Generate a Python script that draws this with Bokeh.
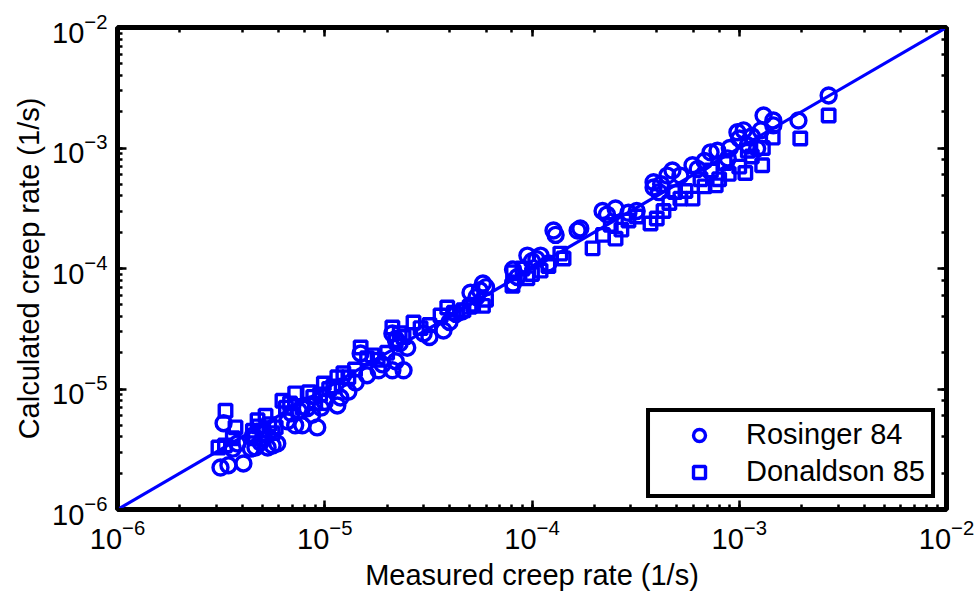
from bokeh.plotting import figure
from bokeh.models import LogAxis, LogTicker, Legend, LegendItem, CustomJSTickFormatter
from bokeh.embed import file_html
from bokeh.resources import INLINE

# ---- data ----
rosinger_x = [3.14e-6, 3.43e-6, 4.05e-6, 3.25e-6, 3.79e-6, 3.6e-6, 4.4e-6, 4.63e-6, 4.9e-6, 5.3e-6,
              5.6e-6, 5.9e-6, 4.5e-6, 5.1e-6,
              6.6e-6, 7.2e-6, 7.8e-6, 9.2e-6, 6.9e-6, 7.5e-6, 8.2e-6, 8.7e-6, 9.6e-6, 1.0e-5,
              1.19e-5, 1.15e-5, 1.3e-5, 1.41e-5, 1.49e-5, 1.6e-5, 1.82e-5, 2.12e-5, 2.4e-5, 2.2e-5, 1.9e-5,
              2.12e-5, 2.3e-5, 2.5e-5, 3.0e-5, 3.2e-5, 3.74e-5, 4.0e-5, 4.3e-5, 5.05e-5, 5.4e-5, 5.8e-5, 6.0e-5,
              8.1e-5, 8.1e-5, 9.5e-5, 1.0e-4, 1.1e-4, 1.2e-4,
              1.27e-4, 1.3e-4, 1.66e-4, 1.71e-4, 2.19e-4, 2.53e-4, 2.92e-4, 3.2e-4,
              3.86e-4, 3.86e-4, 4.1e-4, 4.5e-4, 4.76e-4, 5.2e-4, 5.95e-4, 6.3e-4,
              7.27e-4, 7.85e-4, 8.8e-4, 9.8e-4, 1.05e-3, 1.22e-3, 1.27e-3, 1.31e-3, 1.46e-3, 1.46e-3,
              1.93e-3, 2.7e-3, 1.0e-3, 1.1e-3,
              2.2e-5, 4.6e-5, 5.6e-5, 1.05e-4, 8.5e-5, 2.3e-4, 4.2e-4, 6.8e-4, 1.15e-3, 9.0e-4]
rosinger_y = [2.23e-6, 2.33e-6, 2.41e-6, 5.2e-6, 3.53e-6, 3.2e-6, 3.2e-6, 3.27e-6, 3.6e-6, 3.27e-6,
              3.4e-6, 3.53e-6, 4.1e-6, 4.3e-6,
              5.4e-6, 5.0e-6, 5.0e-6, 4.8e-6, 6.3e-6, 6.6e-6, 6.9e-6, 6.1e-6, 7.0e-6, 7.8e-6,
              8.5e-6, 7.3e-6, 9.5e-6, 1.13e-5, 1.97e-5, 1.3e-5, 1.43e-5, 1.43e-5, 1.43e-5, 1.7e-5, 1.6e-5,
              2.89e-5, 2.4e-5, 2.2e-5, 2.89e-5, 2.7e-5, 3.06e-5, 3.6e-5, 4.2e-5, 6.3e-5, 5.8e-5, 7.5e-5, 7.0e-5,
              7.5e-5, 9.8e-5, 1.28e-4, 1.15e-4, 1.28e-4, 1.1e-4,
              2.07e-4, 1.9e-4, 2.07e-4, 2.15e-4, 3.0e-4, 3.15e-4, 2.9e-4, 3.0e-4,
              4.7e-4, 5.2e-4, 4.3e-4, 5.9e-4, 6.5e-4, 5.9e-4, 7.2e-4, 6.7e-4,
              9.2e-4, 9.5e-4, 8.2e-4, 1.35e-3, 1.4e-3, 9.9e-4, 1.4e-3, 1.86e-3, 1.69e-3, 1.54e-3,
              1.69e-3, 2.73e-3, 1.2e-3, 1.05e-3,
              2.6e-5, 4.4e-5, 6.6e-5, 1.2e-4, 8.5e-5, 2.8e-4, 5.0e-4, 7.8e-4, 1.25e-3, 1.0e-3]

donaldson_x = [3.07e-6, 3.32e-6, 3.3e-6, 3.71e-6, 3.6e-6, 4.5e-6, 4.74e-6, 4.8e-6, 5.0e-6, 5.18e-6,
               5.4e-6, 5.6e-6, 4.6e-6, 5.8e-6,
               6.25e-6, 6.5e-6, 6.8e-6, 7.2e-6, 7.8e-6, 8.4e-6, 9.0e-6, 8.8e-6, 9.5e-6, 9.9e-6, 1.05e-5,
               1.15e-5, 1.23e-5, 1.1e-5,
               1.3e-5, 1.4e-5, 1.49e-5, 1.6e-5, 1.7e-5, 1.8e-5, 2.0e-5, 2.12e-5, 2.2e-5, 2.4e-5, 2.68e-5,
               2.9e-5, 3.2e-5, 3.62e-5, 3.9e-5, 4.2e-5, 4.67e-5, 5.2e-5, 5.8e-5, 6.0e-5,
               8.05e-5, 8.1e-5, 9.0e-5, 1.0e-4, 1.1e-4, 1.2e-4, 1.37e-4, 1.42e-4,
               1.96e-4, 2.2e-4, 2.53e-4, 2.7e-4, 2.92e-4, 3.2e-4, 3.73e-4, 4.0e-4, 4.31e-4, 4.6e-4,
               5.2e-4, 5.95e-4, 5.5e-4,
               7.7e-4, 8.0e-4, 8.9e-4, 1.0e-3, 1.07e-3, 1.15e-3, 1.29e-3, 1.3e-3, 1.45e-3, 1.97e-3,
               2.7e-3, 7.3e-4, 6.5e-4,
               2.3e-5, 5.0e-5, 9.5e-5, 2.4e-4, 6.8e-4, 1.1e-3, 8.5e-4, 4.9e-4]
donaldson_y = [3.27e-6, 6.6e-6, 3.4e-6, 4.8e-6, 3.9e-6, 4.5e-6, 5.5e-6, 4.9e-6, 4.5e-6, 6.0e-6,
               5.1e-6, 4.3e-6, 3.9e-6, 4.8e-6,
               8.0e-6, 7.0e-6, 7.6e-6, 9.2e-6, 7.0e-6, 9.4e-6, 7.6e-6, 8.6e-6, 9.0e-6, 1.11e-5, 1.0e-5,
               1.25e-5, 1.35e-5, 1.05e-5,
               1.25e-5, 1.45e-5, 2.21e-5, 1.8e-5, 1.9e-5, 1.75e-5, 2.0e-5, 3.24e-5, 2.5e-5, 2.7e-5, 3.56e-5,
               3.2e-5, 3.4e-5, 4.07e-5, 4.75e-5, 4.3e-5, 4.5e-5, 5.0e-5, 4.9e-5, 5.5e-5,
               7.2e-5, 9.3e-5, 1.0e-4, 9.0e-5, 9.6e-5, 1.05e-4, 1.33e-4, 1.21e-4,
               1.47e-4, 1.9e-4, 1.77e-4, 2.1e-4, 2.5e-4, 2.7e-4, 2.36e-4, 2.6e-4, 3.0e-4, 3.5e-4,
               3.8e-4, 3.8e-4, 4.4e-4,
               4.9e-4, 5.5e-4, 6.1e-4, 7.0e-4, 6.2e-4, 8.5e-4, 7.2e-4, 1.0e-3, 1.22e-3, 1.2e-3,
               1.86e-3, 6.5e-4, 5.5e-4,
               2.9e-5, 4.8e-5, 8.3e-5, 2.3e-4, 4.8e-4, 9.5e-4, 7.5e-4, 4.3e-4]

parity_x = [1e-6, 1e-2]
parity_y = [1e-6, 1e-2]

x_label = "Measured creep rate (1/s)"
y_label = "Calculated creep rate (1/s)"
series_labels = ["Rosinger 84", "Donaldson 85"]

FONT = "Liberation Sans"
BLUE = "#0000ff"

p = figure(width=975, height=599, x_axis_type="log", y_axis_type="log",
           x_range=(1e-6, 1e-2), y_range=(1e-6, 1e-2),
           output_backend="svg", toolbar_location=None,
           min_border_left=117, min_border_right=29, min_border_top=27, min_border_bottom=90)
p.xgrid.visible = False
p.ygrid.visible = False
p.outline_line_color = "black"
p.outline_line_width = 5
p.outline_line_alpha = 1.0
p.background_fill_color = "white"
p.border_fill_color = "white"

p.line(parity_x, parity_y, line_color=BLUE, line_width=3.2)
c = p.scatter(rosinger_x, rosinger_y, marker="circle", size=15, line_color=BLUE,
              fill_color=None, line_width=3.4)
s = p.scatter(donaldson_x, donaldson_y, marker="square", size=12.5, line_color=BLUE,
              fill_color=None, line_width=3.4)

def style_axis(ax):
    ax.major_tick_in = 9
    ax.major_tick_out = 0
    ax.minor_tick_in = 5
    ax.minor_tick_out = 0
    ax.axis_line_color = None
    ax.major_tick_line_color = "black"
    ax.minor_tick_line_color = "black"
    ax.major_tick_line_width = 2.5
    ax.minor_tick_line_width = 2.5
    ax.major_label_text_font = FONT
    ax.major_label_text_font_size = "29px"
    ax.major_label_text_color = "black"
    ax.axis_label_text_font = FONT
    ax.axis_label_text_font_size = "29px"
    ax.axis_label_text_font_style = "normal"
    ax.axis_label_text_color = "black"

for ax in p.xaxis + p.yaxis:
    style_axis(ax)
p.xaxis.axis_label = x_label
p.yaxis.axis_label = y_label
p.xaxis.major_label_standoff = 9
p.yaxis.major_label_standoff = 10
p.xaxis.axis_label_standoff = 7
p.yaxis.axis_label_standoff = 4

for loc in ["right", "above"]:
    ax = LogAxis(ticker=LogTicker(), formatter=CustomJSTickFormatter(code="return ''"))
    style_axis(ax)
    ax.major_label_standoff = 0
    p.add_layout(ax, loc)

legend = Legend(items=[LegendItem(label=series_labels[0], renderers=[c]),
                       LegendItem(label=series_labels[1], renderers=[s])],
                location="bottom_right")
legend.margin = 11
legend.padding = 6
legend.spacing = 4
legend.glyph_width = 86
legend.glyph_height = 30
legend.label_height = 31
legend.label_standoff = 4
legend.label_text_font = FONT
legend.label_text_font_size = "29px"
legend.label_text_color = "black"
legend.border_line_color = "black"
legend.border_line_alpha = 1.0
legend.border_line_width = 4
legend.background_fill_color = "white"
legend.background_fill_alpha = 1.0
p.add_layout(legend)

open("out.html", "w").write(file_html(p, INLINE))
